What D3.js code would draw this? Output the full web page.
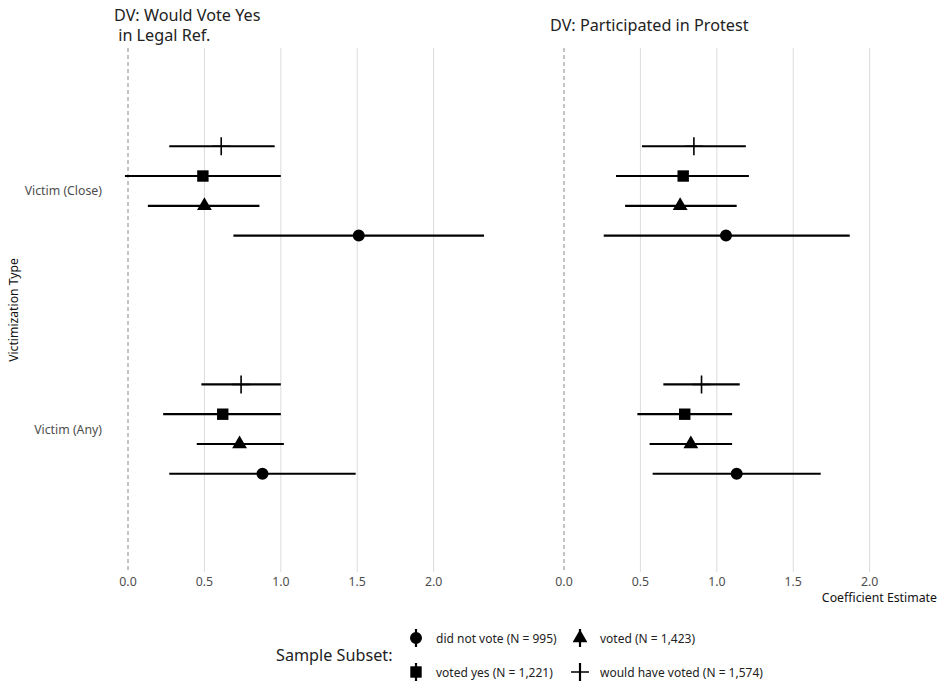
<!DOCTYPE html>
<html>
<head>
<meta charset="utf-8">
<script src="https://cdn.jsdelivr.net/npm/d3@7"></script>
<style>
  body { margin: 0; background: #fff; }
  text { font-family: "Noto Sans", sans-serif; }
</style>
</head>
<body>
<svg id="chart"></svg>
<script>
// categories (top to bottom) and subsets (legend order)
const categories = ['Victim (Close)', 'Victim (Any)'];
const subsets = ['did not vote (N = 995)', 'voted (N = 1,423)', 'voted yes (N = 1,221)', 'would have voted (N = 1,574)'];
const shapes = ['circle', 'triangle', 'square', 'cross'];
const panelTitles = [['DV: Would Vote Yes', ' in Legal Ref.'], ['DV: Participated in Protest']];
const xTicks = [0, 0.5, 1, 1.5, 2];

// rows follow categories, columns follow subsets
const voteEst = [[1.51, 0.50, 0.49, 0.61], [0.88, 0.73, 0.62, 0.74]];
const voteLo  = [[0.69, 0.13, -0.02, 0.27], [0.27, 0.45, 0.23, 0.48]];
const voteHi  = [[2.33, 0.86, 1.00, 0.96], [1.49, 1.02, 1.00, 1.00]];
const protestEst = [[1.06, 0.76, 0.78, 0.85], [1.13, 0.83, 0.79, 0.90]];
const protestLo  = [[0.26, 0.40, 0.34, 0.51], [0.58, 0.56, 0.48, 0.65]];
const protestHi  = [[1.87, 1.13, 1.21, 1.19], [1.68, 1.10, 1.10, 1.15]];

const width = 940, height = 682;
const svg = d3.select('#chart').attr('width', width).attr('height', height);

const panels = [
  { title: panelTitles[0], est: voteEst, lo: voteLo, hi: voteHi, left: 107 },
  { title: panelTitles[1], est: protestEst, lo: protestLo, hi: protestHi, left: 543 }
];
const panelW = 395, plotTop = 48, plotBottom = 572;

// shared x domain with 5% expansion like ggplot
const allVals = panels.flatMap(p => p.lo.flat().concat(p.hi.flat()));
const xmin = d3.min(allVals), xmax = d3.max(allVals);
const pad = (xmax - xmin) * 0.05;

const y = d3.scalePoint().domain(categories).range([plotTop, plotBottom]).padding(0.6);
const dodge = y.step() * 0.125;

function symbolPath(shape) {
  if (shape === 'circle') return d3.symbol(d3.symbolCircle, 113)();
  if (shape === 'square') return d3.symbol(d3.symbolSquare, 130)();
  if (shape === 'triangle') return d3.symbol(d3.symbolTriangle, 95)();
  return 'M-9,0H9M0,-9V9';
}

function drawSymbol(g, shape, cx, cy) {
  const p = g.append('path')
    .attr('d', symbolPath(shape))
    .attr('transform', `translate(${cx},${cy})`);
  if (shape === 'cross') p.attr('fill', 'none').attr('stroke', '#000').attr('stroke-width', 1.6);
  else p.attr('fill', '#000');
}

panels.forEach((p, pi) => {
  const x = d3.scaleLinear().domain([xmin - pad, xmax + pad]).range([p.left, p.left + panelW]);
  const g = svg.append('g');

  // grid
  g.selectAll('.grid').data(xTicks.filter(t => t !== 0)).enter().append('line')
    .attr('x1', d => x(d)).attr('x2', d => x(d))
    .attr('y1', plotTop).attr('y2', plotBottom)
    .attr('stroke', '#dcdcdc').attr('stroke-width', 1);

  // zero line
  g.append('line')
    .attr('x1', x(0)).attr('x2', x(0)).attr('y1', plotTop).attr('y2', plotBottom)
    .attr('stroke', '#888').attr('stroke-width', 1).attr('stroke-dasharray', '4,3');

  // tick labels
  g.selectAll('.tick').data(xTicks).enter().append('text')
    .attr('x', d => x(d)).attr('y', 581)
    .attr('text-anchor', 'middle').attr('dominant-baseline', 'central')
    .attr('font-size', 12.3).attr('fill', '#4d4d4d')
    .text(d => d3.format('.1f')(d));

  // panel title
  const t = g.append('text')
    .attr('x', p.left + 7)
    .attr('font-size', 16.2).attr('fill', '#222')
    .attr('xml:space', 'preserve');
  const lineH = 20;
  const y0 = 25 - (p.title.length - 1) * lineH / 2;
  p.title.forEach((line, li) => {
    t.append('tspan').attr('x', p.left + 7).attr('y', y0 + li * lineH)
      .attr('dominant-baseline', 'central').text(line);
  });

  // error bars and points
  categories.forEach((cat, ci) => {
    subsets.forEach((s, si) => {
      const cy = y(cat) + (1.5 - si) * dodge;
      g.append('line')
        .attr('x1', x(p.lo[ci][si])).attr('x2', x(p.hi[ci][si]))
        .attr('y1', cy).attr('y2', cy)
        .attr('stroke', '#000').attr('stroke-width', 2.2);
      drawSymbol(g, shapes[si], x(p.est[ci][si]), cy);
    });
  });
});

// y axis labels
svg.selectAll('.ylab').data(categories).enter().append('text')
  .attr('x', 102).attr('y', d => y(d))
  .attr('text-anchor', 'end').attr('dominant-baseline', 'central')
  .attr('font-size', 12.3).attr('fill', '#4d4d4d')
  .text(d => d);

svg.append('text')
  .attr('transform', `translate(13,${(plotTop + plotBottom) / 2}) rotate(-90)`)
  .attr('text-anchor', 'middle').attr('dominant-baseline', 'central')
  .attr('font-size', 12.2).attr('fill', '#111')
  .text('Victimization Type');

svg.append('text')
  .attr('x', 937).attr('y', 597)
  .attr('text-anchor', 'end').attr('dominant-baseline', 'central')
  .attr('font-size', 12.3).attr('fill', '#111')
  .text('Coefficient Estimate');

// legend
const legend = svg.append('g');
legend.append('text')
  .attr('x', 276).attr('y', 655)
  .attr('dominant-baseline', 'central')
  .attr('font-size', 16.2).attr('fill', '#222')
  .text('Sample Subset:');

const colX = [416, 580], rowY = [638, 672];
subsets.forEach((s, si) => {
  const kx = colX[si % 2], ky = rowY[Math.floor(si / 2)];
  legend.append('line')
    .attr('x1', kx).attr('x2', kx).attr('y1', ky - 9).attr('y2', ky + 9)
    .attr('stroke', '#000').attr('stroke-width', 2.2);
  drawSymbol(legend, shapes[si], kx, ky);
  legend.append('text')
    .attr('x', kx + 20).attr('y', ky)
    .attr('dominant-baseline', 'central')
    .attr('font-size', 12).attr('fill', '#222')
    .text(s);
});
</script>
</body>
</html>
